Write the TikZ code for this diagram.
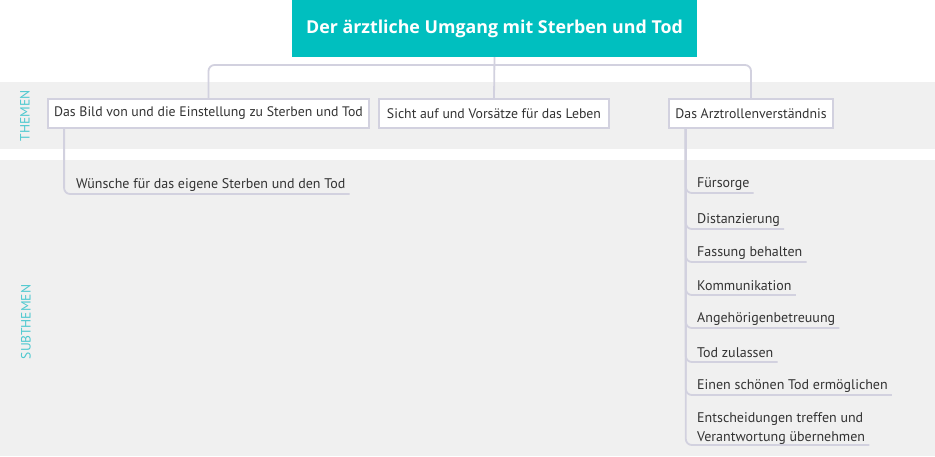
\documentclass[tikz,border=0pt]{standalone}
\usepackage{fontspec}
\setmainfont{PT Sans}
\newfontfamily\titlefont{Open Sans}
\definecolor{teal1}{HTML}{00BFBF}
\definecolor{lbl}{HTML}{4CC8CF}
\definecolor{band}{HTML}{F0F0F0}
\definecolor{conncol}{HTML}{D2D1DF}
\definecolor{txt}{HTML}{333333}
\begin{document}
\begin{tikzpicture}[x=1pt,y=-1pt,
  conn/.style={draw=conncol,line width=1.8pt,rounded corners=6pt},
  themebox/.style={draw=conncol,line width=1.8pt,fill=white,minimum height=29pt,inner sep=0pt,font=\fontsize{13.8}{16}\selectfont,text=txt},
  subnode/.style={anchor=south west,inner xsep=4pt,inner ysep=0pt,minimum height=18pt,font=\fontsize{14}{19}\selectfont,text=txt,align=left},
  bandlbl/.style={rotate=90,text=lbl,font=\fontsize{13.5}{15}\selectfont}]
\useasboundingbox (0,0) rectangle (935,457);
\fill[white] (0,0) rectangle (935,457);
\fill[band] (0,82) rectangle (935,149);
\fill[band] (0,160) rectangle (935,456);
\node[bandlbl] (lt) at (25,116) {THEMEN};
\node[bandlbl] (ls) at (26,322) {SUBTHEMEN};
\node[fill=teal1,text=white,minimum width=405pt,minimum height=57pt,inner sep=0pt,font=\titlefont\fontsize{17.8}{20}\bfseries\selectfont] (root) at (494.5,28.5) {Der ärztliche Umgang mit Sterben und Tod};
\node[themebox,minimum width=321pt] (b1) at (208.5,113.5) {Das Bild von und die Einstellung zu Sterben und Tod};
\node[themebox,minimum width=230pt] (b2) at (494,113.5) {Sicht auf und Vorsätze für das Leben};
\node[themebox,minimum width=164pt] (b3) at (751,113.5) {Das Arztrollenverständnis};
\coordinate (j) at (494,65);
\draw[conn] (root.south) -- (b2.north);
\draw[conn] (b1.north) |- (j) -| (b3.north);
% subthemes
\node[subnode] (w1) at (72,194) {Wünsche für das eigene Sterben und den Tod};
\coordinate (t1) at ([xshift=17pt]b1.south west);
\draw[conn] (t1) |- (w1.south east);
\coordinate (t3) at ([xshift=17.7pt]b3.south west);
\node[subnode] (c1) at (693,193) {Fürsorge};
\node[subnode] (c2) at (693,229) {Distanzierung};
\node[subnode] (c3) at (693,262) {Fassung behalten};
\node[subnode] (c4) at (693,295) {Kommunikation};
\node[subnode] (c5) at (693,328) {Angehörigenbetreuung};
\node[subnode] (c6) at (693,362) {Tod zulassen};
\node[subnode] (c7) at (693,395) {Einen schönen Tod ermöglichen};
\node[subnode] (c8) at (693,445) {Entscheidungen treffen und\\Verantwortung übernehmen};
\foreach \c in {c1,c2,c3,c4,c5,c6,c7,c8} \draw[conn] (t3) |- (\c.south east);
\end{tikzpicture}
\end{document}
